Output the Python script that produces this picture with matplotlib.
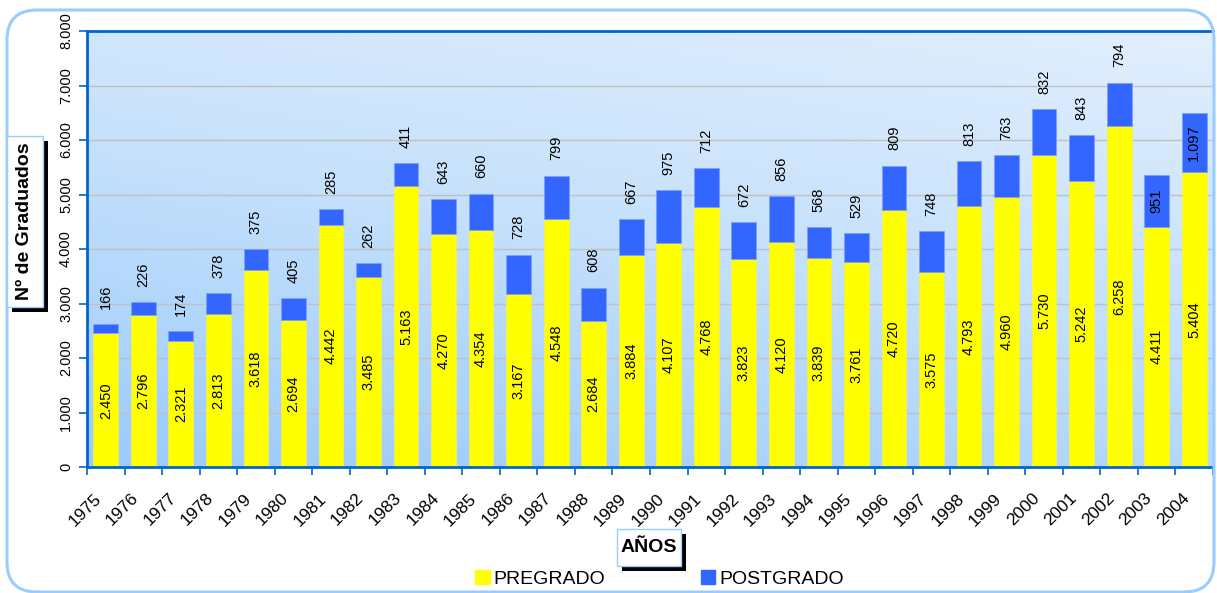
import numpy as np
import matplotlib
matplotlib.use("Agg")
import matplotlib.pyplot as plt
import matplotlib.patches as patches
import matplotlib.transforms as mtransforms
from matplotlib.colors import LinearSegmentedColormap

plt.rcParams['font.family'] = ['Liberation Sans', 'DejaVu Sans']

# Data
years = [str(y) for y in range(1975, 2005)]
pregrado = [2450, 2796, 2321, 2813, 3618, 2694, 4442, 3485, 5163, 4270,
            4354, 3167, 4548, 2684, 3884, 4107, 4768, 3823, 4120, 3839,
            3761, 4720, 3575, 4793, 4960, 5730, 5242, 6258, 4411, 5404]
postgrado = [166, 226, 174, 378, 375, 405, 285, 262, 411, 643,
             660, 728, 799, 608, 667, 975, 712, 672, 856, 568,
             529, 809, 748, 813, 763, 832, 843, 794, 951, 1097]
post_inside = ['2003', '2004']   # labels drawn inside the segment

yellow = '#ffff00'
blue = '#3366ff'
dark_blue = '#0066cc'
light_blue = '#99ccff'


def fmt(v):
    return f"{v:,}".replace(',', '.')


W, H = 1217, 593
fig = plt.figure(figsize=(W / 100, H / 100), dpi=100)
ax = fig.add_axes([87 / W, 1 - 467 / H, (1213 - 87) / W, (467 - 31) / H])

x = np.arange(len(years))

# gradient background of the plot area
gx, gy = np.meshgrid(np.linspace(0, 1, 200), np.linspace(0, 1, 100))
grad = (gx * 0.3 + gy * 0.7)
cmap = LinearSegmentedColormap.from_list('bg', ['#9ccbfc', '#c4e0fb', '#e2effe'])
ax.imshow(grad, extent=[-0.5, len(years) - 0.5, 8000, 0], aspect='auto',
          cmap=cmap, zorder=0, interpolation='bilinear')

ax.bar(x, pregrado, width=0.66, color=yellow, edgecolor='#f0f060',
       linewidth=0.5, zorder=2)
ax.bar(x, postgrado, width=0.66, bottom=pregrado, color=blue,
       edgecolor='#7fa0ff', linewidth=0.6, zorder=2)

# data labels
for i, (p, q) in enumerate(zip(pregrado, postgrado)):
    ax.text(i, p / 2, fmt(p), rotation=90, ha='center', va='center',
            fontsize=10.5, zorder=3)
    if years[i] in post_inside:
        ax.text(i, p + q / 2, fmt(q), rotation=90, ha='center', va='center',
                fontsize=10.5, zorder=3)
    else:
        ax.annotate(fmt(q), (i, p + q), xytext=(0, 11),
                    textcoords='offset points', rotation=90,
                    ha='center', va='bottom', fontsize=10.5, zorder=3)

ax.set_xlim(-0.5, len(years) - 0.5)
ax.set_ylim(0, 8000)

ax.set_yticks(range(0, 8001, 1000))
ax.set_yticklabels([fmt(v) for v in range(0, 8001, 1000)], rotation=90,
                   va='center', fontsize=10.5)
ax.yaxis.grid(True, color='#c0c0c0', linewidth=1, zorder=1)
ax.set_axisbelow(True)

ax.set_xticks(x)
ax.set_xticklabels(years, rotation=45, ha='right', rotation_mode='anchor',
                   fontsize=12.5)
ax.set_xticks(np.arange(-0.5, len(years), 1), minor=True)
ax.tick_params(axis='x', which='major', length=0, pad=17)
ax.tick_params(axis='x', which='minor', length=6, width=1.2, color=dark_blue)
ax.tick_params(axis='y', length=6, width=1.2, color=dark_blue, pad=4)
shift = mtransforms.ScaledTranslation(-9 / 72, 0, fig.dpi_scale_trans)
for lbl in ax.get_xticklabels():
    lbl.set_transform(lbl.get_transform() + shift)

for side in ['left', 'bottom', 'top']:
    ax.spines[side].set_color(dark_blue)
    ax.spines[side].set_linewidth(2)
ax.spines['right'].set_visible(False)

# outer rounded border (pixel coordinates)
ident = mtransforms.IdentityTransform()
border = patches.FancyBboxPatch((7, 1), 1207, 582,
                                boxstyle='round,pad=0,rounding_size=30',
                                transform=ident, facecolor='none',
                                edgecolor=light_blue, linewidth=2.2)
fig.add_artist(border)


def shadow_box(x0, y0, w, h, off):
    fig.add_artist(patches.Rectangle((x0 + off, y0 - off), w, h,
                                     transform=ident, facecolor='black',
                                     edgecolor='none'))
    fig.add_artist(patches.Rectangle((x0, y0), w, h, transform=ident,
                                     facecolor='white', edgecolor=light_blue,
                                     linewidth=1))


# y-axis title box
shadow_box(7, 286, 36, 171, 5)
fig.text(25 / W, 1 - 221.5 / H, 'Nº de Graduados', rotation=90,
         ha='center', va='center', fontsize=14, fontweight='bold')

# x-axis title box
shadow_box(617, 27, 64, 37, 5)
fig.text(649 / W, 1 - 547.5 / H, 'AÑOS', ha='center', va='center',
         fontsize=14, fontweight='bold')

handles = [patches.Patch(color=yellow, label='PREGRADO'),
           patches.Patch(color=blue, label='POSTGRADO')]
fig.legend(handles=handles, loc='center', bbox_to_anchor=(659.5 / W, 1 - 579 / H),
           ncol=2, frameon=False, fontsize=14, handlelength=0.75,
           handleheight=0.75, handletextpad=0.2, columnspacing=4.9,
           borderpad=0)

fig.savefig('out.png', dpi=100)
